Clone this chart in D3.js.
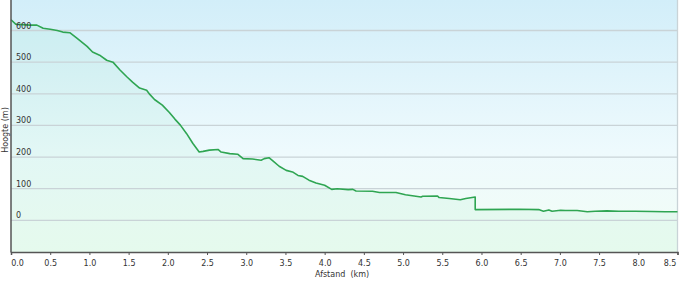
<!DOCTYPE html>
<html>
<head>
<meta charset="utf-8">
<script src="https://cdn.jsdelivr.net/npm/d3@7"></script>
<style>
body { margin: 0; background: #fff; }
svg { display: block; font-family: "DejaVu Sans", Verdana, sans-serif; }
</style>
</head>
<body>
<div id="chart"></div>
<script>
distances = [0.00, 0.06, 0.24, 0.33, 0.41, 0.50, 0.59, 0.66, 0.75, 0.84, 0.97, 1.04, 1.13, 1.22, 1.30, 1.39, 1.48, 1.55, 1.64, 1.73,
  1.77, 1.83, 1.93, 2.02, 2.09, 2.16, 2.24, 2.32, 2.40, 2.45, 2.53, 2.64, 2.68, 2.79, 2.89, 2.96, 3.08, 3.19, 3.23, 3.29,
  3.34, 3.42, 3.51, 3.59, 3.66, 3.72, 3.80, 3.89, 4.00, 4.09, 4.16, 4.30, 4.36, 4.40, 4.61, 4.70, 4.91, 5.03, 5.23, 5.25,
  5.44, 5.46, 5.59, 5.73, 5.80, 5.92, 5.92, 6.48, 6.73, 6.79, 6.86, 6.90, 7.01, 7.07, 7.22, 7.35, 7.45, 7.60, 7.75, 7.96,
  8.17, 8.34, 8.50]
heights = [634, 620, 617, 617, 607, 604, 600, 595, 593, 576, 550, 532, 522, 506, 500, 475, 453, 437, 418, 411,
  398, 382, 364, 341, 320, 301, 274, 243, 216, 218, 222, 224, 216, 211, 209, 195, 194, 190, 195, 198,
  188, 171, 158, 153, 142, 139, 127, 118, 111, 98, 100, 97, 98, 93, 92, 88, 88, 81, 74, 76,
  77, 72, 69, 65, 69, 74, 34, 35, 34, 29, 33, 29, 32, 31, 31, 27, 29, 30, 29, 29,
  28, 27, 27]
xTicks = [0, 0.5, 1, 1.5, 2, 2.5, 3, 3.5, 4, 4.5, 5, 5.5, 6, 6.5, 7, 7.5, 8, 8.5]
yTicks = [0, 100, 200, 300, 400, 500, 600]

width = 680
height = 281
margin = ({top: 0, right: 2, bottom: 29, left: 11})

data = distances.map((d, i) => ({d: d, h: heights[i]}))

x = d3.scaleLinear()
  .domain([0, 8.5])
  .range([margin.left, width - margin.right - 0.5])
y = d3.scaleLinear()
  .domain([-100, 600])
  .range([height - margin.bottom, 30.5])

var svg = d3.select("#chart").append("svg")
  .attr("width", width)
  .attr("height", height)

const defs = svg.append("defs")
const grad = defs.append("linearGradient")
  .attr("id", "bg").attr("x1", 0).attr("y1", 0).attr("x2", 0).attr("y2", 1)
grad.append("stop").attr("offset", "0%").attr("stop-color", "#d2eef9")
grad.append("stop").attr("offset", "60%").attr("stop-color", "#eefafd")
grad.append("stop").attr("offset", "100%").attr("stop-color", "#f2fdf5")

const plotTop = 0
const plotBottom = height - margin.bottom
svg.append("rect")
  .attr("x", margin.left)
  .attr("y", plotTop)
  .attr("width", x(8.5) - margin.left)
  .attr("height", plotBottom - plotTop)
  .attr("fill", "url(#bg)")

// area under the profile
svg.append("path")
  .datum(data)
  .attr("fill", "#40d890")
  .attr("fill-opacity", 0.07)
  .attr("d", d3.area().x(d => x(d.d)).y0(plotBottom).y1(d => y(d.h)))

// horizontal grid lines
svg.append("g")
  .selectAll("line")
  .data(yTicks)
  .enter().append("line")
  .attr("x1", margin.left)
  .attr("x2", x(8.5))
  .attr("y1", d => y(d))
  .attr("y2", d => y(d))
  .attr("stroke", "#c9d3d7")
  .attr("stroke-width", 1.3)

// right border
svg.append("line")
  .attr("x1", x(8.5)).attr("x2", x(8.5))
  .attr("y1", plotTop).attr("y2", plotBottom)
  .attr("stroke", "#c9d3d7").attr("stroke-width", 1.3)

// profile line
svg.append("path")
  .datum(data)
  .attr("fill", "none")
  .attr("stroke", "#2fa552")
  .attr("stroke-width", 1.6)
  .attr("stroke-linejoin", "round")
  .attr("d", d3.line().x(d => x(d.d)).y(d => y(d.h)))

// y labels inside the plot
svg.append("g")
  .selectAll("text")
  .data(yTicks)
  .enter().append("text")
  .attr("x", 16)
  .attr("y", d => y(d) - 2)
  .attr("fill", "#333")
  .style("font-size", "8px")
  .text(d => d)

// left axis line
svg.append("line")
  .attr("x1", margin.left).attr("x2", margin.left)
  .attr("y1", plotTop).attr("y2", plotBottom + 0.5)
  .attr("stroke", "#555").attr("stroke-width", 1.5)

// x axis
const xAxis = d3.axisBottom(x)
  .tickValues(xTicks)
  .tickSize(3)
  .tickPadding(5)
  .tickFormat(d3.format(".1f"))
const gx = svg.append("g")
  .attr("transform", `translate(0,${plotBottom})`)
  .call(xAxis)
gx.select(".domain").attr("stroke", "#555").attr("stroke-width", 1.5)
gx.selectAll(".tick line").attr("stroke", "#555")
gx.selectAll("text")
  .attr("fill", "#333")
  .style("font-size", "8px")
  .style("font-family", "DejaVu Sans, Verdana, sans-serif")
  .attr("dx", (d, i) => i === 0 ? 6 : (i === xTicks.length - 1 ? -8 : 0))

// axis titles
svg.append("text")
  .attr("x", 342)
  .attr("y", 277)
  .attr("text-anchor", "middle")
  .attr("fill", "#333")
  .style("font-size", "8px")
  .style("white-space", "pre")
  .attr("xml:space", "preserve")
  .text("Afstand  (km)")

svg.append("text")
  .attr("transform", "translate(8,130) rotate(-90)")
  .attr("text-anchor", "middle")
  .attr("fill", "#333")
  .style("font-size", "8px")
  .text("Hoogte (m)")
</script>
</body>
</html>
